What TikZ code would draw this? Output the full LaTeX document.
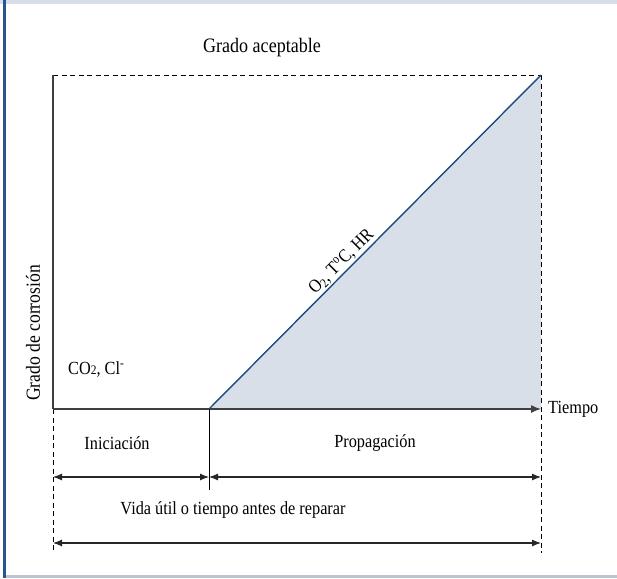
\documentclass[tikz,border=0pt]{standalone}
\usepackage{fontspec}
\setmainfont{Liberation Serif}[FakeStretch=0.88]
\usetikzlibrary{arrows.meta}
\definecolor{bandcol}{HTML}{D5DEE8}
\definecolor{edgeblue}{HTML}{2A5491}
\definecolor{linecol}{HTML}{1E4A80}
\definecolor{fillcol}{HTML}{D8DFE8}
\definecolor{botcol}{HTML}{BCC6D0}
\tikzset{
  lbl/.style={font=\fontsize{18.5}{20}\selectfont, inner sep=0pt},
  dim/.style={draw=black!85, line width=1.1pt, {Latex[length=9pt,width=7pt]}-{Latex[length=9pt,width=7pt]}},
  guide/.style={draw=black, line width=0.7pt, dash pattern=on 5pt off 3.5pt},
  axis/.style={draw=black!75, line width=1.4pt},
}
\begin{document}
\begin{tikzpicture}[x=1pt,y=-1pt]
\useasboundingbox (0,0) rectangle (617,578);
% frame
\fill[bandcol] (0,0) rectangle (617,4.5);
\fill[edgeblue] (3,0) rectangle (5.5,578);
\fill[botcol] (5.5,575) rectangle (617,578);
% coordinates
\coordinate (O) at (53,409);
\coordinate (Ytop) at (53,75);
\coordinate (S) at (209,409);
\coordinate (P) at (541,75);
\coordinate (Xend) at (541,409);
\coordinate (Lbot) at (53,553);
\coordinate (Rbot) at (541,553);
\coordinate (Sbot) at (209,490);
% shaded triangle
\fill[fillcol] (S) -- (P) -- (Xend) -- cycle;
% guides
\draw[guide] (Ytop) -- (P);
\draw[guide] (P) -- (Rbot);
\draw[guide] (O) -- (Lbot);
% axes
\draw[axis] (O) -- (Ytop);
\draw[axis, -{Latex[length=10pt,width=8pt]}] (O) -- (Xend);
\draw[black, line width=1pt] (S) -- (Sbot);
% diagonal
\draw[linecol, line width=1.4pt] (S) -- (P);
\path (S) -- (P) node[pos=0.42, sloped, above=2pt, lbl, text=black] (diag) {O\textsubscript{2}, T\textsuperscript{o}C, HR};
% dimension arrows
\coordinate (a1) at (53,477);
\coordinate (a2) at (209,477);
\coordinate (a3) at (541,477);
\coordinate (b1) at (53,543);
\coordinate (b2) at (541,543);
\draw[dim] (a1) -- (a2);
\draw[dim] (a2) -- (a3);
\draw[dim] (b1) -- (b2);
% labels
\node[lbl, font=\fontsize{20.5}{22}\selectfont] (ga) at (262,48) {Grado aceptable};
\node[lbl, anchor=west] (co) at (68,369) {CO{\fontsize{13}{14}\selectfont 2}, Cl\textsuperscript{-}};
\node[lbl] (ini) at (117,443) {Iniciación};
\node[lbl] (pro) at (375,443) {Propagación};
\node[lbl] (vida) at (233,510) {Vida útil o tiempo antes de reparar};
\node[lbl, anchor=west] (tie) at (548,409) {Tiempo};
\node[lbl, rotate=90, font=\fontsize{20}{22}\selectfont] (gc) at (33,333) {Grado de corrosión};
\end{tikzpicture}
\end{document}
